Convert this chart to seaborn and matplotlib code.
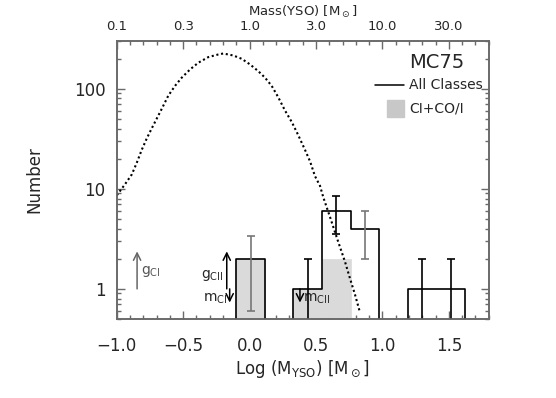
import matplotlib
matplotlib.use('Agg')
import matplotlib.pyplot as plt
import seaborn as sns
import numpy as np
from matplotlib.patches import Rectangle
from matplotlib.ticker import FixedLocator, MultipleLocator, NullFormatter

# histogram bins in log(M) (padded with an empty bin on each side)
bin_edges = [-0.315, -0.10, 0.115, 0.33, 0.545, 0.76, 0.975, 1.19, 1.405, 1.62, 1.835]
n_all = [0, 2, 0, 1, 6, 4, 0, 1, 1, 0]
n_ci = [0, 2, 0, 1, 2, 0, 0, 0, 0, 0]
err_all = [0, 1.4, 0, 1.0, 2.45, 2.0, 0, 1.0, 1.0, 0]

# dotted model curve
imf_logm = [-1.0, -0.938, -0.887, -0.850, -0.812, -0.774, -0.737, -0.699, -0.661,
            -0.612, -0.561, -0.511, -0.448, -0.386, -0.311, -0.236, -0.198, -0.123,
            -0.059, 0.003, 0.065, 0.116, 0.166, 0.216, 0.266, 0.317, 0.366, 0.417,
            0.455, 0.492, 0.530, 0.555, 0.605, 0.667, 0.718, 0.755, 0.793, 0.831]
imf_n = [8.6, 11.1, 13.9, 18.1, 24.5, 31.9, 40.1, 50.3, 63.1,
         85.3, 107, 129, 156, 182, 207, 220, 225, 215,
         199, 175, 150, 129, 107, 82, 60.7, 46.6, 34.4, 24.5,
         18.8, 13.4, 10.7, 8.2, 5.24, 2.95, 1.87, 1.28, 0.88, 0.58]

x_ticks = [-1.0, -0.5, 0.0, 0.5, 1.0, 1.5]
bottom_labels = ['\u22121.0', '\u22120.5', '0.0', '0.5', '1.0', '1.5']
top_labels = ['0.1', '0.3', '1.0', '3.0', '10.0', '30.0']
y_ticks = [1, 10, 100]
y_labels = ['1', '10', '100']

# error bar colours per bin (gray ones look lighter in the original)
err_colors = ['k', '#777777', 'k', 'k', 'k', '#777777', 'k', 'k', 'k', 'k']

sns.set_style('ticks')
plt.rcParams['font.family'] = ['DejaVu Sans']
plt.rcParams['mathtext.fontset'] = 'dejavusans'

axis_col = '#6a6a6a'
fill_col = '#dadada'

fig = plt.figure(figsize=(5.56, 3.98), dpi=100)
ax = fig.add_axes([0.21, 0.1985, 0.669, 0.6985])

centers = [(a + b) / 2 for a, b in zip(bin_edges[:-1], bin_edges[1:])]

# CI+CO/I filled histogram
sns.histplot(x=centers, weights=n_ci, bins=bin_edges, element='bars', color=fill_col,
             alpha=1, edgecolor=fill_col, linewidth=0.5, ax=ax, zorder=1)
# all classes outline
sns.histplot(x=centers, weights=n_all, bins=bin_edges, element='step', fill=False,
             color='k', linewidth=1.2, ax=ax, zorder=3)

# poisson error bars
for i, (c, n, e) in enumerate(zip(centers, n_all, err_all)):
    if e > 0:
        ax.errorbar(c, n, yerr=e, color=err_colors[i], lw=1.2, capsize=3,
                    capthick=1.2, zorder=4)

# model curve
sns.lineplot(x=imf_logm, y=imf_n, color='k', lw=1.5, linestyle=(0, (1, 1.3)),
             ax=ax, zorder=5)

ax.set_yscale('log')
ax.set_xlim(-1.0, 1.8)
ax.set_ylim(0.5, 300)

# annotations
arrow = dict(arrowstyle='->', lw=1.1, shrinkA=0, shrinkB=0, mutation_scale=13)
ax.annotate('', xy=(-0.847, 2.37), xytext=(-0.847, 1.0),
            arrowprops=dict(arrow, color='#666666'))
ax.text(-0.817, 1.5, r'g$_\mathregular{CI}$', fontsize=10, color='#555555',
        ha='left', va='center')
ax.annotate('', xy=(-0.172, 2.37), xytext=(-0.172, 1.0),
            arrowprops=dict(arrow, color='k'))
ax.text(-0.200, 1.37, r'g$_\mathregular{CII}$', fontsize=10, ha='right', va='center')
ax.annotate('', xy=(-0.150, 0.73), xytext=(-0.150, 1.0),
            arrowprops=dict(arrow, color='k'))
ax.text(-0.165, 0.80, r'm$_\mathregular{CI}$', fontsize=10, ha='right', va='center')
ax.annotate('', xy=(0.379, 0.73), xytext=(0.379, 1.0),
            arrowprops=dict(arrow, color='k'))
ax.text(0.405, 0.80, r'm$_\mathregular{CII}$', fontsize=10, ha='left', va='center')

# legend block
ax.text(0.785, 0.921, 'MC75', fontsize=14, ha='left', va='center', transform=ax.transAxes)
ax.plot([0.693, 0.773], [0.842, 0.842], color='k', lw=1.1, transform=ax.transAxes)
ax.text(0.785, 0.842, 'All Classes', fontsize=10, ha='left', va='center',
        transform=ax.transAxes)
ax.add_patch(Rectangle((0.727, 0.725), 0.045, 0.063, color='#c8c8c8',
                       transform=ax.transAxes))
ax.text(0.785, 0.757, 'CI+CO/I', fontsize=10, ha='left', va='center',
        transform=ax.transAxes)

# axes styling
ax.xaxis.set_major_locator(FixedLocator(x_ticks))
ax.set_xticklabels(bottom_labels)
ax.xaxis.set_minor_locator(MultipleLocator(0.1))
ax.yaxis.set_major_locator(FixedLocator(y_ticks))
ax.set_yticklabels(y_labels)
ax.yaxis.set_minor_formatter(NullFormatter())
ax.tick_params(which='both', direction='in', right=True, top=False, color=axis_col,
               labelsize=12, width=1)
ax.tick_params(axis='x', which='both', pad=13)
ax.tick_params(axis='y', which='both', pad=8)
ax.tick_params(which='major', length=6)
ax.tick_params(which='minor', length=3)
for s in ax.spines.values():
    s.set_color(axis_col)
    s.set_linewidth(1.2)
ax.set_xlabel(r'Log (M$_\mathregular{YSO}$) [M$_\odot$]', fontsize=12, labelpad=2)
ax.set_ylabel('Number', fontsize=12, labelpad=22)

ax2 = ax.twiny()
ax2.set_xlim(ax.get_xlim())
ax2.xaxis.set_major_locator(FixedLocator(x_ticks))
ax2.set_xticklabels(top_labels)
ax2.xaxis.set_minor_locator(MultipleLocator(0.1))
ax2.tick_params(which='both', direction='in', color=axis_col, labelsize=9.5, pad=6, width=1)
ax2.tick_params(which='major', length=6)
ax2.tick_params(which='minor', length=3)
for s in ax2.spines.values():
    s.set_color(axis_col)
    s.set_linewidth(1.2)
ax2.set_xlabel(r'Mass(YSO) [M$_\odot$]', fontsize=9.5, labelpad=3)

fig.savefig('out.png', dpi=100)
